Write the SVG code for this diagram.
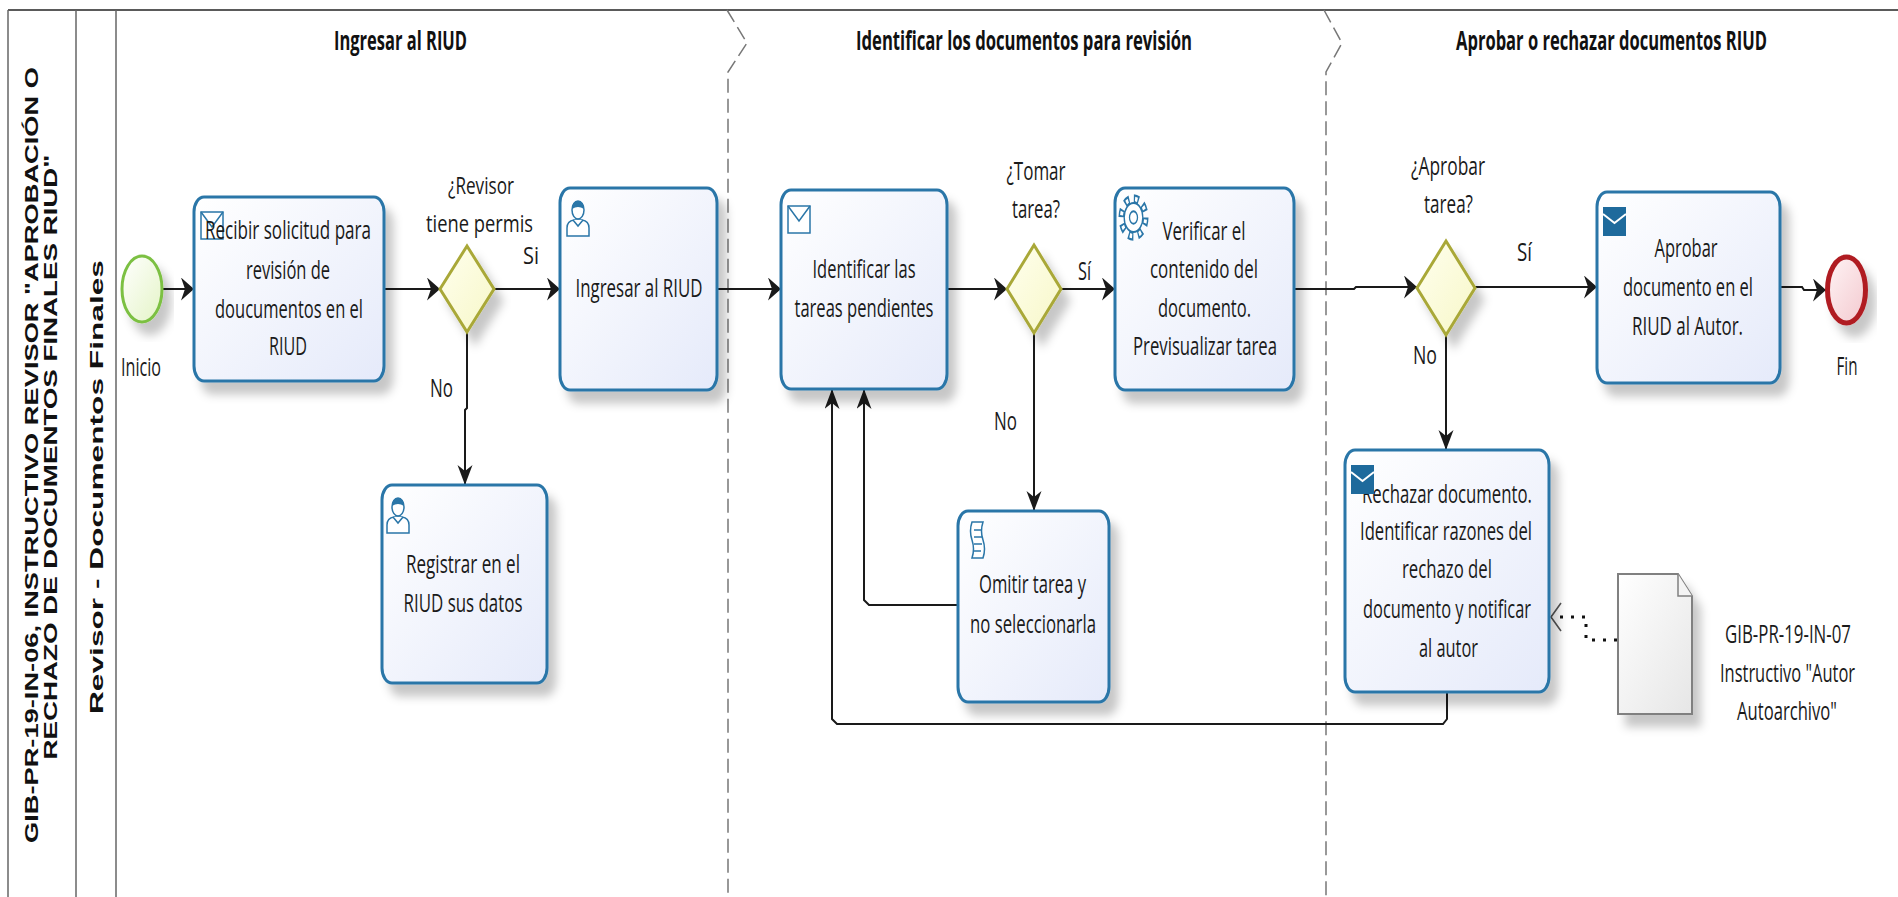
<svg xmlns="http://www.w3.org/2000/svg" xmlns:xlink="http://www.w3.org/1999/xlink" width="1898" height="897" viewBox="0 0 1898 897">
<style>
.frame{stroke:#666;stroke-width:1.5;fill:none}
.sep{stroke:#777;stroke-width:1.5;fill:none;stroke-dasharray:14 6}
.task{stroke:#2a76a8;stroke-width:3;fill:url(#gTask);filter:url(#sh)}
.gw{stroke:#a9a838;stroke-width:3;fill:url(#gGw);filter:url(#sh)}
.flow{stroke:#1a1a1a;stroke-width:2;fill:none}
.txt{font-family:"Open Sans","Liberation Sans",sans-serif;font-size:25px;fill:#1a1a1a;text-anchor:middle}
.lbl{font-size:23px}
.ttl{font-family:"Open Sans","Liberation Sans",sans-serif;font-size:27px;font-weight:bold;fill:#111;text-anchor:middle}
.rot{font-family:"Liberation Sans",Arial,sans-serif;font-size:18px;font-weight:bold;fill:#111;text-anchor:middle}
.ico{stroke:#2a76a8;stroke-width:1.5;fill:#fff}
</style>
<defs>
<linearGradient id="gTask" x1="0" y1="0" x2="1" y2="1"><stop offset="0" stop-color="#ffffff"/><stop offset="1" stop-color="#e5eafa"/></linearGradient>
<linearGradient id="gGw" x1="0" y1="0" x2="1" y2="1"><stop offset="0" stop-color="#ffffee"/><stop offset="1" stop-color="#f7f7c8"/></linearGradient>
<linearGradient id="gStart" x1="0" y1="0" x2="1" y2="1"><stop offset="0" stop-color="#ffffff"/><stop offset="1" stop-color="#e4f4c6"/></linearGradient>
<linearGradient id="gEnd" x1="0" y1="0" x2="1" y2="1"><stop offset="0" stop-color="#fff4f5"/><stop offset="1" stop-color="#f3c9cf"/></linearGradient>
<linearGradient id="gDoc" x1="0" y1="0" x2="1" y2="1"><stop offset="0" stop-color="#ffffff"/><stop offset="1" stop-color="#e6e6e6"/></linearGradient>
<filter id="sh" x="-20%" y="-20%" width="150%" height="150%"><feDropShadow dx="8" dy="12" stdDeviation="5" flood-color="#000" flood-opacity="0.22"/></filter>
<marker id="ah" markerUnits="userSpaceOnUse" markerWidth="14" markerHeight="24" refX="13" refY="11.5" orient="auto"><path d="M0,0 L13,11.5 L0,23 L4,11.5 Z" fill="#1a1a1a"/></marker>
<marker id="av" markerUnits="userSpaceOnUse" markerWidth="20" markerHeight="16" refX="20" refY="7.5" orient="auto"><path d="M0,0 L20,7.5 L0,15 L6,7.5 Z" fill="#1a1a1a"/></marker>
<marker id="ao" markerUnits="userSpaceOnUse" markerWidth="14" markerHeight="32" refX="12" refY="15" orient="auto"><path d="M2,1 L12,15 L2,29" fill="none" stroke="#555" stroke-width="1.6"/></marker>
<g id="icUser">
<path class="ico" d="M1,36 V28 Q1,21 8,20 L16,20 Q23,21 23,28 V36 Z"/>
<path class="ico" d="M7,20 L12,26 L17,20" fill="none"/>
<ellipse class="ico" cx="12" cy="10" rx="6" ry="9"/>
<path d="M6,9 Q6,1 12,1 Q18,1 18,9 Q12,5 6,9 Z" fill="#2a76a8"/>
</g>
<g id="icMailOut">
<rect class="ico" x="0" y="0" width="22" height="27"/>
<path d="M0,0 L11,15 L22,0" fill="none" stroke="#2a76a8" stroke-width="1.5"/>
</g>
<g id="icMailFill">
<rect x="0" y="0" width="23" height="29" fill="#1e6a9c"/>
<path d="M0,7 L11.5,16 L23,7" fill="none" stroke="#fff" stroke-width="2"/>
</g>
</defs>

<rect x="0" y="0" width="1898" height="897" fill="#ffffff"/>

<g id="pool">
<line class="frame" x1="8" y1="10" x2="1898" y2="10" style="stroke-width:2.2;stroke:#5a5a5a"/>
<line class="frame" x1="8" y1="10" x2="8" y2="897"/>
<line class="frame" x1="76" y1="10" x2="76" y2="897"/>
<line class="frame" x1="116" y1="10" x2="116" y2="897"/>
<text class="rot" transform="translate(38,455) rotate(-90)" textLength="776" lengthAdjust="spacingAndGlyphs">GIB-PR-19-IN-06, INSTRUCTIVO REVISOR "APROBACIÓN O</text>
<text class="rot" transform="translate(57,457) rotate(-90)" textLength="605" lengthAdjust="spacingAndGlyphs">RECHAZO DE DOCUMENTOS FINALES RIUD"</text>
</g>
<g id="lane">
<text class="rot" transform="translate(103,487) rotate(-90)" textLength="454" lengthAdjust="spacingAndGlyphs">Revisor - Documentos Finales</text>
</g>

<g id="phases">
<path class="sep" d="M727,10 L747,43 L728,72 V897"/>
<path class="sep" d="M1324,10 L1342,43 L1326,72 V897"/>
<text class="ttl" x="400.5" y="50" textLength="133" lengthAdjust="spacingAndGlyphs">Ingresar al RIUD</text>
<text class="ttl" x="1024" y="50" textLength="336" lengthAdjust="spacingAndGlyphs">Identificar los documentos para revisión</text>
<text class="ttl" x="1611.5" y="50" textLength="311" lengthAdjust="spacingAndGlyphs">Aprobar o rechazar documentos RIUD</text>
</g>

<g id="connectors">
<path class="flow" d="M163,289 H194" marker-end="url(#ah)"/>
<path class="flow" d="M384,289 H440" marker-end="url(#ah)"/>
<path class="flow" d="M494,289 H560" marker-end="url(#ah)"/>
<path class="flow" d="M467,332 V408 L465,410 V485" marker-end="url(#av)"/>
<path class="flow" d="M717,289 H781" marker-end="url(#ah)"/>
<path class="flow" d="M947,289 H1007" marker-end="url(#ah)"/>
<path class="flow" d="M1061,289 H1115" marker-end="url(#ah)"/>
<path class="flow" d="M1034,333 V511" marker-end="url(#av)"/>
<path class="flow" d="M958,605 H869 L864,600 V389" marker-end="url(#av)"/>
<path class="flow" d="M1294,289 H1354 L1356,287 H1417" marker-end="url(#ah)"/>
<path class="flow" d="M1475,287 H1597" marker-end="url(#ah)"/>
<path class="flow" d="M1446,335 V450" marker-end="url(#av)"/>
<path class="flow" d="M1780,287 H1802 L1804,290 H1826" marker-end="url(#ah)"/>
<path class="flow" d="M1447,692 V719 L1443,724 H837 L832,719 V389" marker-end="url(#av)"/>
<path d="M1617,640 H1586 V617 H1551" fill="none" stroke="#111" stroke-width="3" stroke-dasharray="3 8" marker-end="url(#ao)"/>
<text class="txt lbl" x="531" y="264" textLength="16" lengthAdjust="spacingAndGlyphs">Si</text>
<text class="txt" x="441.5" y="397" textLength="23" lengthAdjust="spacingAndGlyphs">No</text>
<text class="txt" x="1084.5" y="280" textLength="13" lengthAdjust="spacingAndGlyphs">Sí</text>
<text class="txt" x="1005.5" y="430" textLength="23" lengthAdjust="spacingAndGlyphs">No</text>
<text class="txt" x="1524.5" y="261" textLength="15" lengthAdjust="spacingAndGlyphs">Sí</text>
<text class="txt" x="1425" y="364" textLength="24" lengthAdjust="spacingAndGlyphs">No</text>
</g>

<g id="inicio">
<ellipse cx="142" cy="289" rx="20" ry="33" fill="url(#gStart)" stroke="#7cc043" stroke-width="3" filter="url(#sh)"/>
<text class="txt" x="141" y="376" textLength="40" lengthAdjust="spacingAndGlyphs">Inicio</text>
</g>

<g id="recibir">
<rect class="task" x="194" y="197" width="190" height="184" rx="10" ry="15"/>
<use href="#icMailOut" x="201" y="212"/>
<text class="txt" x="288" y="239" textLength="166" lengthAdjust="spacingAndGlyphs">Recibir solicitud para</text>
<text class="txt" x="288" y="279" textLength="84" lengthAdjust="spacingAndGlyphs">revisión de</text>
<text class="txt" x="289" y="318" textLength="148" lengthAdjust="spacingAndGlyphs">doucumentos en el</text>
<text class="txt" x="288" y="355" textLength="38" lengthAdjust="spacingAndGlyphs">RIUD</text>
</g>

<g id="gw-revisor">
<path class="gw" d="M440,289 L467,246 L494,289 L467,332 Z"/>
<text class="txt lbl" x="481" y="194" textLength="66" lengthAdjust="spacingAndGlyphs">¿Revisor</text>
<text class="txt lbl" x="479.5" y="232" textLength="107" lengthAdjust="spacingAndGlyphs">tiene permis</text>
</g>

<g id="registrar">
<rect class="task" x="382" y="485" width="165" height="198" rx="10" ry="15"/>
<use href="#icUser" x="386" y="497"/>
<text class="txt" x="463" y="573" textLength="114" lengthAdjust="spacingAndGlyphs">Registrar en el</text>
<text class="txt" x="463" y="612" textLength="119" lengthAdjust="spacingAndGlyphs">RIUD sus datos</text>
</g>

<g id="ingresar">
<rect class="task" x="560" y="188" width="157" height="202" rx="10" ry="15"/>
<use href="#icUser" x="566" y="200"/>
<text class="txt" x="639" y="297" textLength="127" lengthAdjust="spacingAndGlyphs">Ingresar al RIUD</text>
</g>

<g id="identificar">
<rect class="task" x="781" y="190" width="166" height="199" rx="10" ry="15"/>
<use href="#icMailOut" x="788" y="206"/>
<text class="txt" x="864" y="278" textLength="103" lengthAdjust="spacingAndGlyphs">Identificar las</text>
<text class="txt" x="864" y="317" textLength="139" lengthAdjust="spacingAndGlyphs">tareas pendientes</text>
</g>

<g id="gw-tomar">
<path class="gw" d="M1007,289 L1034,245 L1061,289 L1034,333 Z"/>
<text class="txt" x="1036" y="180" textLength="59" lengthAdjust="spacingAndGlyphs">¿Tomar</text>
<text class="txt" x="1036" y="218" textLength="48" lengthAdjust="spacingAndGlyphs">tarea?</text>
</g>

<g id="verificar">
<rect class="task" x="1115" y="188" width="179" height="202" rx="10" ry="15"/>
<g transform="translate(1133.5,217.5) scale(1,1.55)">
<circle r="12" fill="none" stroke="#2a76a8" stroke-width="6" stroke-dasharray="5 4.42"/>
<circle r="12" fill="none" stroke="#fff" stroke-width="3" stroke-dasharray="2.4 7.02" stroke-dashoffset="-1.3"/>
<circle r="9.3" fill="#fff" stroke="#2a76a8" stroke-width="1.3"/>
<circle r="4" fill="#fff" stroke="#2a76a8" stroke-width="1.3"/>
</g>
<text class="txt" x="1204" y="240" textLength="83" lengthAdjust="spacingAndGlyphs">Verificar el</text>
<text class="txt" x="1204" y="278" textLength="108" lengthAdjust="spacingAndGlyphs">contenido del</text>
<text class="txt" x="1204.5" y="317" textLength="93" lengthAdjust="spacingAndGlyphs">documento.</text>
<text class="txt" x="1205" y="355" textLength="144" lengthAdjust="spacingAndGlyphs">Previsualizar tarea</text>
</g>

<g id="omitir">
<rect class="task" x="958" y="511" width="151" height="191" rx="10" ry="15"/>
<path class="ico" d="M972,522 H983 Q980,531 983,540 Q986,549 983,558 H972 Q975,549 972,540 Q969,531 972,522 Z"/>
<path d="M974,530 H981 M974,537 H982 M974,544 H982 M974,551 H981" stroke="#2a76a8" stroke-width="1.5"/>
<text class="txt" x="1032.5" y="593" textLength="107" lengthAdjust="spacingAndGlyphs">Omitir tarea y</text>
<text class="txt" x="1033" y="633" textLength="126" lengthAdjust="spacingAndGlyphs">no seleccionarla</text>
</g>

<g id="gw-aprobar">
<path class="gw" d="M1417,288 L1446,241 L1475,288 L1446,335 Z"/>
<text class="txt" x="1448" y="175" textLength="74" lengthAdjust="spacingAndGlyphs">¿Aprobar</text>
<text class="txt" x="1448.5" y="213" textLength="49" lengthAdjust="spacingAndGlyphs">tarea?</text>
</g>

<g id="aprobar">
<rect class="task" x="1597" y="192" width="183" height="191" rx="10" ry="15"/>
<use href="#icMailFill" x="1603" y="207"/>
<text class="txt" x="1686" y="257" textLength="63" lengthAdjust="spacingAndGlyphs">Aprobar</text>
<text class="txt" x="1688" y="296" textLength="130" lengthAdjust="spacingAndGlyphs">documento en el</text>
<text class="txt" x="1687.5" y="335" textLength="111" lengthAdjust="spacingAndGlyphs">RIUD al Autor.</text>
</g>

<g id="fin">
<ellipse cx="1846.5" cy="290" rx="19" ry="33" fill="url(#gEnd)" stroke="#b01e24" stroke-width="5" filter="url(#sh)"/>
<text class="txt" x="1847" y="375" textLength="21" lengthAdjust="spacingAndGlyphs">Fin</text>
</g>

<g id="rechazar">
<rect class="task" x="1345" y="450" width="204" height="242" rx="10" ry="15"/>
<text class="txt" x="1447" y="503" textLength="170" lengthAdjust="spacingAndGlyphs">Rechazar documento.</text>
<use href="#icMailFill" x="1351" y="465"/>
<text class="txt" x="1446" y="540" textLength="172" lengthAdjust="spacingAndGlyphs">Identificar razones del</text>
<text class="txt" x="1447" y="578" textLength="90" lengthAdjust="spacingAndGlyphs">rechazo del</text>
<text class="txt" x="1447" y="618" textLength="168" lengthAdjust="spacingAndGlyphs">documento y notificar</text>
<text class="txt" x="1448.5" y="657" textLength="59" lengthAdjust="spacingAndGlyphs">al autor</text>
</g>

<g id="documento">
<path d="M1618,574 H1678 L1692,596 V714 H1618 Z" fill="url(#gDoc)" stroke="#808080" stroke-width="2" filter="url(#sh)"/>
<path d="M1678,574 V596 H1692" fill="#f4f4f4" stroke="#808080" stroke-width="1.5"/>
<text class="txt" x="1788" y="643" textLength="126" lengthAdjust="spacingAndGlyphs">GIB-PR-19-IN-07</text>
<text class="txt" x="1787.5" y="682" textLength="135" lengthAdjust="spacingAndGlyphs">Instructivo "Autor</text>
<text class="txt" x="1787" y="720" textLength="100" lengthAdjust="spacingAndGlyphs">Autoarchivo"</text>
</g>
</svg>
